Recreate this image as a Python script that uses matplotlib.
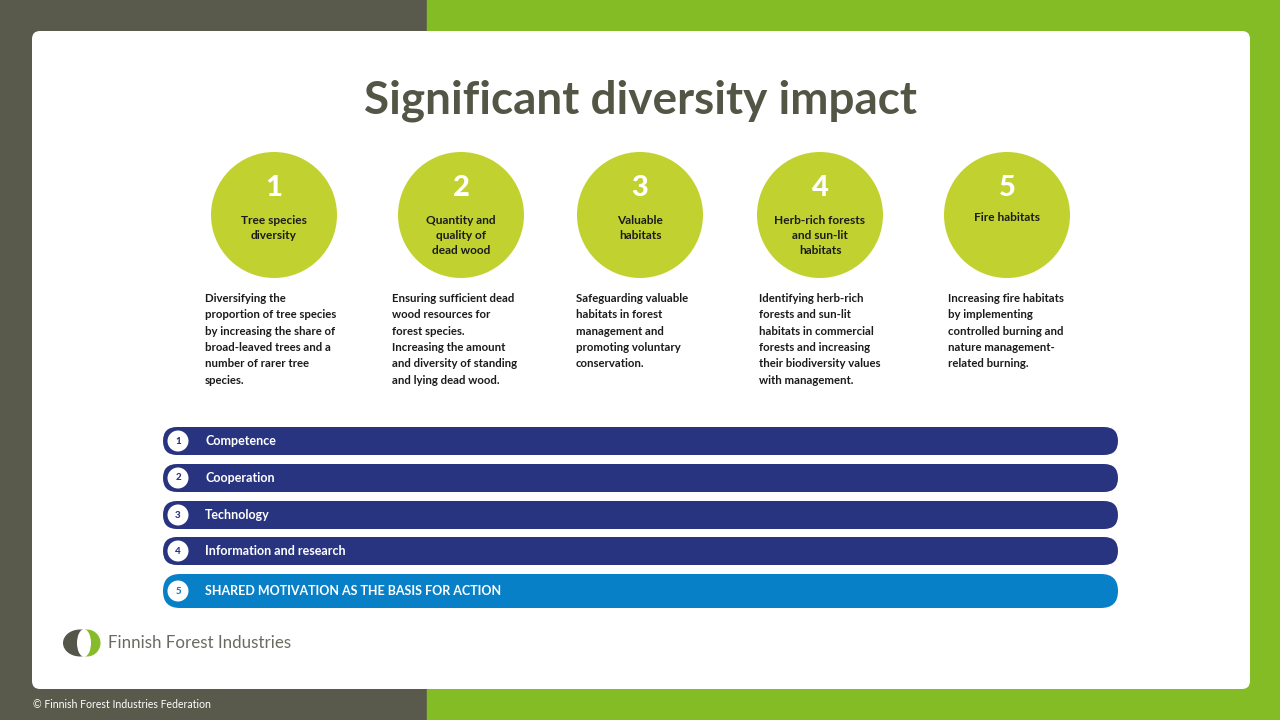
import matplotlib
matplotlib.use("Agg")
import matplotlib.pyplot as plt
from matplotlib.patches import FancyBboxPatch, Circle, Ellipse, Rectangle

# ---- content ----
title = "Significant diversity impact"
circle_numbers = ["1", "2", "3", "4", "5"]
circle_titles = [
    "Tree species\ndiversity",
    "Quantity and\nquality of\ndead wood",
    "Valuable\nhabitats",
    "Herb-rich forests\nand sun-lit\nhabitats",
    "Fire habitats",
]
descriptions = [
    "Diversifying the\nproportion of tree species\nby increasing the share of\nbroad-leaved trees and a\nnumber of rarer tree\nspecies.",
    "Ensuring sufficient dead\nwood resources for\nforest species.\nIncreasing the amount\nand diversity of standing\nand lying dead wood.",
    "Safeguarding valuable\nhabitats in forest\nmanagement and\npromoting voluntary\nconservation.",
    "Identifying herb-rich\nforests and sun-lit\nhabitats in commercial\nforests and increasing\ntheir biodiversity values\nwith management.",
    "Increasing fire habitats\nby implementing\ncontrolled burning and\nnature management-\nrelated burning.",
]
bar_numbers = ["1", "2", "3", "4", "5"]
bar_labels = ["Competence", "Cooperation", "Technology",
              "Information and research",
              "SHARED MOTIVATION AS THE BASIS FOR ACTION"]
logo_text = "Finnish Forest Industries"
footer_text = "© Finnish Forest Industries Federation"

# ---- style ----
DARK = "#5a5a4c"
GREEN = "#84bc26"
LIME = "#c1d230"
NAVY = "#293480"
BLUE = "#0880c8"
TITLE_C = "#535545"
TEXT_C = "#1b1b1b"
FONT = "Lato"

fig = plt.figure(figsize=(12.8, 7.2), dpi=100)
ax = fig.add_axes([0, 0, 1, 1])
ax.set_xlim(0, 1280)
ax.set_ylim(720, 0)
ax.axis("off")

# background
ax.add_patch(Rectangle((0, 0), 427, 720, color=DARK, zorder=0))
ax.add_patch(Rectangle((427, 0), 853, 720, color=GREEN, zorder=0))
ax.add_patch(FancyBboxPatch((32, 31), 1218, 658,
                            boxstyle="round,pad=0,rounding_size=8",
                            fc="white", ec="none", zorder=1))

# title
ax.text(641, 101, title, ha="center", va="center", fontsize=33,
        fontweight="bold", color=TITLE_C, family=FONT, zorder=3)

# circles
cx = [274, 461, 640, 820, 1007]
cy = 215
r = 63
desc_x = [205, 392, 576, 759, 948]
for i in range(5):
    ax.add_patch(Circle((cx[i], cy), r, fc=LIME, ec="none", zorder=2))
    ax.text(cx[i], 188, circle_numbers[i], ha="center", va="center",
            fontsize=21, fontweight="black", color="white", family=FONT, zorder=3)
    nlines = circle_titles[i].count("\n") + 1
    top = 221 if nlines > 1 else 218
    ax.text(cx[i], top - 6, circle_titles[i], ha="center", va="top",
            fontsize=8.6, fontweight="bold", color=TEXT_C, family=FONT,
            linespacing=1.42, zorder=3)
    ax.text(desc_x[i], 293, descriptions[i], ha="left", va="top",
            fontsize=8.2, fontweight="bold", color=TEXT_C, family=FONT,
            linespacing=1.59, zorder=3)

# bars
bar_top = [427, 464, 501, 537, 574]
bar_h = [28, 28, 28, 28, 34]
bar_col = [NAVY, NAVY, NAVY, NAVY, BLUE]
x0, x1 = 163, 1118
for i in range(5):
    h = bar_h[i]
    ax.add_patch(FancyBboxPatch((x0, bar_top[i]), x1 - x0, h,
                                boxstyle="round,pad=0,rounding_size=%f" % (h / 2),
                                fc=bar_col[i], ec="none", zorder=2))
    yc = bar_top[i] + h / 2
    ax.add_patch(Circle((178, yc), 10.5, fc="white", ec="none", zorder=3))
    ax.text(178, yc, bar_numbers[i], ha="center", va="center", fontsize=7,
            fontweight="black", color=bar_col[i], family=FONT, zorder=4)
    ax.text(205, yc, bar_labels[i], ha="left", va="center", fontsize=9,
            fontweight="bold", color="white", family=FONT, zorder=4)

# logo
ax.add_patch(Ellipse((87, 643), 27, 27, fc="#86bb2a", ec="none", zorder=2))
dark = Ellipse((80, 643), 34, 27, fc="#55564a", ec="none", zorder=3)
ax.add_patch(dark)
clip = Rectangle((55, 620), 29, 50, transform=ax.transData)
dark.set_clip_path(clip)
ax.add_patch(Ellipse((84, 643), 14, 27.5, fc="white", ec="none", zorder=4))
ax.text(108, 643, logo_text, ha="left", va="center", fontsize=12.2,
        color="#6a6a60", family=FONT, zorder=3)

# footer
ax.text(33, 704, footer_text, ha="left", va="center", fontsize=7.6,
        color="white", family=FONT, zorder=3)

fig.savefig("out.png", dpi=100)
